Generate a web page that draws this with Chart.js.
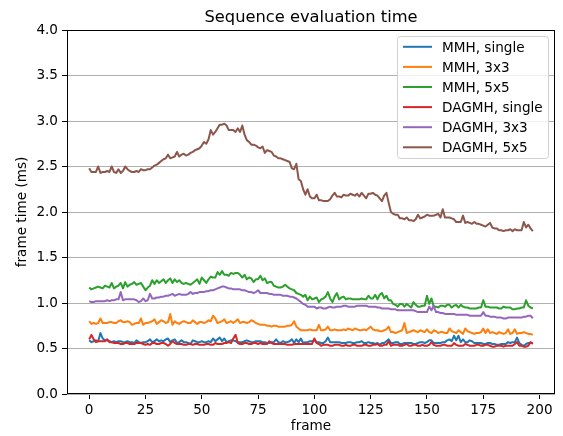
<!DOCTYPE html>
<html><head><meta charset="utf-8">
<script src="https://cdn.jsdelivr.net/npm/chart.js@4.4.1/dist/chart.umd.min.js"></script>
<style>html,body{margin:0;padding:0;background:#fff;}#wrap{width:563px;height:436px;}</style>
</head><body><div id="wrap"><canvas id="c" width="563" height="436"></canvas></div>
<script>
const chartTitle = 'Sequence evaluation time';
const xAxisTitle = 'frame';
const yAxisTitle = 'frame time (ms)';
const seriesNames = ['MMH, single', 'MMH, 3x3', 'MMH, 5x5', 'DAGMH, single', 'DAGMH, 3x3', 'DAGMH, 5x5'];
const seriesColors = ['#1f77b4', '#ff7f0e', '#2ca02c', '#d62728', '#9467bd', '#8c564b'];
const xTickValues = [0, 25, 50, 75, 100, 125, 150, 175, 200];
const yTickValues = [0.0, 0.5, 1.0, 1.5, 2.0, 2.5, 3.0, 3.5, 4.0];

const mmhSingle = [0.59,0.57,0.58,0.59,0.58,0.67,0.61,0.59,0.59,0.58,
0.57,0.58,0.57,0.58,0.58,0.57,0.57,0.58,0.57,0.57,
0.56,0.59,0.57,0.56,0.57,0.57,0.58,0.60,0.57,0.58,
0.60,0.58,0.59,0.58,0.60,0.61,0.57,0.59,0.60,0.56,
0.57,0.59,0.57,0.57,0.56,0.55,0.59,0.58,0.57,0.57,
0.58,0.57,0.57,0.58,0.57,0.61,0.58,0.60,0.62,0.58,
0.61,0.57,0.58,0.59,0.59,0.58,0.57,0.57,0.57,0.58,
0.59,0.58,0.57,0.57,0.58,0.58,0.58,0.57,0.57,0.56,
0.56,0.57,0.57,0.60,0.57,0.56,0.58,0.57,0.57,0.58,
0.60,0.56,0.60,0.57,0.61,0.56,0.57,0.57,0.58,0.58,
0.59,0.57,0.57,0.56,0.56,0.58,0.62,0.57,0.57,0.57,
0.57,0.57,0.56,0.56,0.56,0.57,0.57,0.56,0.56,0.57,
0.57,0.58,0.56,0.56,0.57,0.56,0.56,0.55,0.56,0.54,
0.56,0.56,0.58,0.60,0.56,0.56,0.57,0.57,0.55,0.55,
0.56,0.56,0.56,0.56,0.55,0.55,0.56,0.57,0.57,0.56,
0.57,0.59,0.59,0.56,0.56,0.56,0.56,0.57,0.57,0.59,
0.60,0.58,0.64,0.59,0.64,0.57,0.60,0.57,0.57,0.59,
0.58,0.56,0.56,0.56,0.56,0.55,0.55,0.56,0.56,0.55,
0.55,0.54,0.54,0.55,0.55,0.55,0.57,0.56,0.57,0.57,
0.62,0.56,0.54,0.53,0.55,0.56,0.56,0.56];

const mmh3x3 = [0.80,0.77,0.78,0.77,0.78,0.83,0.78,0.78,0.78,0.79,
0.79,0.78,0.78,0.80,0.81,0.79,0.79,0.80,0.79,0.76,
0.77,0.78,0.78,0.83,0.76,0.78,0.78,0.79,0.80,0.82,
0.77,0.79,0.81,0.80,0.78,0.79,0.88,0.76,0.80,0.78,
0.77,0.79,0.80,0.79,0.78,0.78,0.81,0.79,0.77,0.79,
0.79,0.78,0.79,0.81,0.80,0.86,0.83,0.78,0.79,0.80,
0.82,0.78,0.79,0.80,0.78,0.80,0.82,0.78,0.79,0.79,
0.78,0.79,0.81,0.80,0.78,0.77,0.76,0.76,0.76,0.75,
0.75,0.74,0.75,0.75,0.74,0.74,0.74,0.74,0.75,0.75,
0.76,0.80,0.74,0.72,0.70,0.70,0.70,0.70,0.71,0.70,
0.70,0.70,0.76,0.70,0.70,0.71,0.74,0.70,0.70,0.71,
0.70,0.70,0.70,0.71,0.70,0.72,0.71,0.70,0.72,0.71,
0.70,0.70,0.71,0.70,0.72,0.74,0.71,0.70,0.70,0.69,
0.69,0.70,0.71,0.74,0.68,0.68,0.67,0.68,0.69,0.70,
0.78,0.67,0.68,0.69,0.70,0.69,0.68,0.70,0.69,0.68,
0.71,0.68,0.67,0.70,0.69,0.67,0.68,0.68,0.67,0.67,
0.72,0.69,0.68,0.67,0.70,0.68,0.66,0.72,0.69,0.68,
0.67,0.66,0.67,0.67,0.68,0.72,0.67,0.71,0.67,0.68,
0.67,0.66,0.68,0.67,0.66,0.67,0.71,0.66,0.67,0.71,
0.66,0.67,0.67,0.68,0.67,0.66,0.66,0.65];

const mmh5x5 = [1.17,1.15,1.16,1.17,1.18,1.17,1.16,1.19,1.18,1.17,
1.22,1.16,1.18,1.19,1.22,1.16,1.23,1.18,1.20,1.21,
1.23,1.20,1.21,1.22,1.18,1.14,1.17,1.19,1.25,1.21,
1.25,1.22,1.24,1.26,1.22,1.25,1.27,1.22,1.26,1.23,
1.25,1.22,1.21,1.22,1.21,1.20,1.22,1.24,1.26,1.21,
1.28,1.25,1.22,1.26,1.29,1.28,1.28,1.34,1.31,1.35,
1.31,1.31,1.30,1.33,1.32,1.33,1.33,1.31,1.28,1.31,
1.26,1.28,1.27,1.23,1.26,1.26,1.30,1.25,1.27,1.22,
1.23,1.23,1.19,1.18,1.17,1.17,1.18,1.20,1.18,1.16,
1.15,1.14,1.11,1.10,1.09,1.07,1.09,1.03,1.07,1.04,
1.05,1.06,1.01,1.04,1.05,1.07,1.12,1.05,1.01,1.07,
1.11,1.04,1.06,1.07,1.04,1.05,1.05,1.04,1.04,1.04,
1.04,1.05,1.04,1.04,1.08,1.05,1.05,1.09,1.04,1.09,
1.11,1.05,1.08,1.03,1.03,0.99,0.98,0.96,0.99,0.99,
0.96,0.99,0.97,0.95,1.01,0.98,0.96,0.96,0.97,0.97,
1.08,0.99,1.05,0.96,0.96,0.95,0.97,0.97,0.96,0.98,
0.98,0.95,0.97,0.98,0.95,0.98,0.96,0.95,0.95,0.94,
0.94,0.94,0.94,0.95,0.95,1.03,0.96,0.96,0.95,0.95,
0.95,0.95,0.94,0.94,0.96,0.95,0.95,0.95,0.93,0.93,
0.94,0.94,0.95,0.95,1.03,0.97,0.95,0.94];

const dagmhSingle = [0.60,0.65,0.60,0.57,0.58,0.58,0.58,0.58,0.60,0.57,
0.57,0.56,0.56,0.56,0.55,0.55,0.56,0.56,0.55,0.55,
0.55,0.56,0.56,0.56,0.55,0.54,0.55,0.54,0.56,0.56,
0.55,0.55,0.56,0.56,0.55,0.53,0.55,0.58,0.56,0.55,
0.55,0.55,0.54,0.54,0.55,0.55,0.54,0.55,0.55,0.54,
0.54,0.54,0.55,0.55,0.54,0.54,0.56,0.55,0.55,0.55,
0.56,0.56,0.57,0.56,0.61,0.65,0.56,0.55,0.55,0.56,
0.56,0.55,0.55,0.56,0.56,0.55,0.56,0.55,0.55,0.55,
0.58,0.56,0.55,0.55,0.55,0.55,0.55,0.55,0.54,0.54,
0.54,0.55,0.55,0.55,0.55,0.55,0.55,0.55,0.55,0.55,
0.61,0.56,0.55,0.53,0.54,0.54,0.54,0.53,0.53,0.54,
0.54,0.54,0.53,0.53,0.54,0.53,0.53,0.54,0.54,0.53,
0.53,0.53,0.54,0.54,0.53,0.53,0.54,0.54,0.55,0.53,
0.53,0.54,0.54,0.58,0.53,0.54,0.54,0.54,0.53,0.53,
0.54,0.55,0.53,0.53,0.54,0.54,0.53,0.53,0.54,0.53,
0.53,0.54,0.57,0.54,0.53,0.53,0.53,0.54,0.54,0.53,
0.53,0.53,0.56,0.54,0.53,0.53,0.53,0.55,0.54,0.53,
0.53,0.53,0.54,0.54,0.53,0.53,0.54,0.54,0.53,0.52,
0.52,0.53,0.53,0.53,0.52,0.53,0.53,0.53,0.53,0.55,
0.57,0.53,0.53,0.52,0.52,0.53,0.57,0.55];

const dagmh3x3 = [1.02,1.01,1.01,1.02,1.02,1.02,1.02,1.02,1.03,1.02,
1.03,1.03,1.04,1.04,1.12,1.03,1.04,1.04,1.04,1.04,
1.04,1.03,1.01,1.02,1.05,1.02,1.03,1.10,1.05,1.05,
1.06,1.06,1.07,1.07,1.08,1.08,1.09,1.10,1.08,1.09,
1.10,1.09,1.09,1.09,1.10,1.12,1.10,1.11,1.11,1.12,
1.12,1.12,1.13,1.13,1.14,1.14,1.15,1.16,1.17,1.18,
1.18,1.17,1.16,1.16,1.15,1.15,1.15,1.15,1.14,1.14,
1.13,1.12,1.12,1.11,1.12,1.14,1.11,1.11,1.11,1.11,
1.10,1.10,1.09,1.09,1.09,1.09,1.08,1.08,1.08,1.07,
1.07,1.06,1.05,1.03,1.01,0.99,0.98,0.96,0.96,0.96,
0.96,0.94,0.95,0.95,0.94,0.94,0.95,0.96,0.95,0.95,
0.96,0.96,0.96,0.97,0.97,0.96,0.96,0.96,0.96,0.97,
0.97,0.97,0.97,0.97,0.96,0.96,0.96,0.96,0.95,0.95,
0.94,0.94,0.94,0.94,0.93,0.93,0.93,0.92,0.92,0.92,
0.92,0.92,0.92,0.92,0.92,0.91,0.90,0.90,0.90,0.90,
0.90,0.96,0.92,0.97,0.90,0.90,0.89,0.89,0.88,0.88,
0.88,0.88,0.88,0.87,0.87,0.87,0.87,0.87,0.87,0.86,
0.86,0.86,0.86,0.86,0.86,0.90,0.86,0.86,0.85,0.85,
0.85,0.84,0.84,0.84,0.83,0.83,0.84,0.84,0.84,0.84,
0.84,0.84,0.84,0.85,0.85,0.86,0.86,0.83];

const dagmh5x5 = [2.48,2.44,2.44,2.44,2.50,2.43,2.44,2.44,2.45,2.44,
2.50,2.44,2.43,2.47,2.43,2.45,2.50,2.47,2.45,2.44,
2.44,2.45,2.44,2.47,2.46,2.46,2.47,2.47,2.49,2.51,
2.52,2.54,2.56,2.58,2.59,2.63,2.59,2.60,2.61,2.66,
2.61,2.63,2.64,2.62,2.63,2.65,2.66,2.68,2.69,2.70,
2.73,2.77,2.75,2.80,2.90,2.85,2.88,2.92,2.96,2.96,
2.97,2.95,2.90,2.90,2.90,2.88,2.92,2.88,2.95,2.85,
2.79,2.77,2.74,2.74,2.73,2.71,2.70,2.72,2.65,2.68,
2.67,2.66,2.62,2.61,2.59,2.59,2.58,2.57,2.56,2.55,
2.48,2.47,2.53,2.36,2.34,2.25,2.19,2.25,2.17,2.15,
2.15,2.19,2.13,2.13,2.12,2.12,2.12,2.14,2.18,2.21,
2.17,2.17,2.16,2.19,2.18,2.18,2.20,2.19,2.18,2.20,
2.17,2.21,2.18,2.15,2.20,2.20,2.21,2.19,2.18,2.15,
2.12,2.18,2.21,2.10,2.00,1.98,1.97,1.97,1.93,1.93,
1.92,1.94,1.91,1.91,1.90,1.92,1.97,1.93,1.94,1.95,
1.97,1.96,1.96,1.96,1.97,1.98,1.94,2.03,1.94,1.94,
1.94,1.93,1.92,1.89,1.89,1.89,1.96,1.88,1.89,1.88,
1.87,1.89,1.87,1.87,1.86,1.85,1.84,1.86,1.88,1.83,
1.82,1.82,1.80,1.80,1.79,1.80,1.80,1.81,1.79,1.81,
1.80,1.80,1.80,1.89,1.83,1.86,1.82,1.79];

const seriesValues = [mmhSingle, mmh3x3, mmh5x5, dagmhSingle, dagmh3x3, dagmh5x5];
const frames = mmhSingle.map((_, i) => i);

const FONT = 'DejaVu Sans';
const FS = 13.6;

const decorPlugin = {
  id: 'decor',
  afterDatasetsDraw(chart) {
    const ctx = chart.ctx;
    const a = chart.chartArea;
    ctx.save();
    // spines (all four sides)
    ctx.strokeStyle = '#000';
    ctx.lineWidth = 1;
    const L = Math.round(a.left) + 0.5, R = Math.round(a.right) - 0.5;
    const T = Math.round(a.top) + 0.5, B = Math.round(a.bottom) - 0.5;
    ctx.strokeRect(L, T, R - L, B - T);
    // legend
    const x0 = 397.5, y0 = 36.5, w = 151, h = 122, r = 3;
    ctx.beginPath();
    ctx.moveTo(x0 + r, y0);
    ctx.lineTo(x0 + w - r, y0);
    ctx.quadraticCurveTo(x0 + w, y0, x0 + w, y0 + r);
    ctx.lineTo(x0 + w, y0 + h - r);
    ctx.quadraticCurveTo(x0 + w, y0 + h, x0 + w - r, y0 + h);
    ctx.lineTo(x0 + r, y0 + h);
    ctx.quadraticCurveTo(x0, y0 + h, x0, y0 + h - r);
    ctx.lineTo(x0, y0 + r);
    ctx.quadraticCurveTo(x0, y0, x0 + r, y0);
    ctx.closePath();
    ctx.fillStyle = 'rgba(255,255,255,0.8)';
    ctx.fill();
    ctx.strokeStyle = '#d0d0d0';
    ctx.stroke();
    ctx.font = FS + 'px "' + FONT + '"';
    ctx.textBaseline = 'alphabetic';
    ctx.textAlign = 'left';
    seriesNames.forEach((name, i) => {
      const yy = 46.8 + i * 20.1;
      ctx.strokeStyle = seriesColors[i];
      ctx.lineWidth = 2;
      ctx.beginPath();
      ctx.moveTo(403, yy);
      ctx.lineTo(432, yy);
      ctx.stroke();
      ctx.fillStyle = '#000';
      ctx.fillText(name, 442, yy + 5);
    });
    ctx.restore();
  },
  afterDraw(chart) {
    const ctx = chart.ctx;
    const a = chart.chartArea;
    ctx.save();
    ctx.font = '16.3px "' + FONT + '"';
    ctx.fillStyle = '#000';
    ctx.textAlign = 'center';
    ctx.textBaseline = 'alphabetic';
    ctx.fillText(chartTitle, (a.left + a.right) / 2, 22);
    ctx.restore();
  }
};

new Chart(document.getElementById('c'), {
  type: 'line',
  data: {
    datasets: seriesValues.map((vals, i) => ({
      label: seriesNames[i],
      data: vals.map((v, j) => ({ x: frames[j], y: v })),
      borderColor: seriesColors[i],
      backgroundColor: seriesColors[i],
      borderWidth: 2,
      pointRadius: 0,
      tension: 0,
      fill: false,
      borderJoinStyle: 'round',
      order: seriesValues.length - i
    }))
  },
  options: {
    responsive: false,
    animation: false,
    devicePixelRatio: 1,
    layout: { padding: { top: 30, right: 8, left: 0, bottom: 0 } },
    plugins: {
      legend: { display: false },
      title: { display: false },
      tooltip: { enabled: false }
    },
    scales: {
      x: {
        type: 'linear',
        min: -9.85,
        max: 206.85,
        afterBuildTicks: (s) => { s.ticks = xTickValues.map(v => ({ value: v })); },
        afterFit: (s) => { s.height = 42; },
        ticks: { color: '#000', font: { family: FONT, size: FS }, padding: 3, maxRotation: 0, autoSkip: false, callback: (v) => String(v) },
        grid: { drawOnChartArea: false, drawTicks: true, tickLength: 5, tickColor: '#000', tickWidth: 1 },
        border: { display: false },
        title: { display: true, text: xAxisTitle, color: '#000', font: { family: FONT, size: FS }, padding: { top: 0, bottom: 1 } }
      },
      y: {
        type: 'linear',
        min: 0,
        max: 4,
        afterBuildTicks: (s) => { s.ticks = yTickValues.map(v => ({ value: v })); },
        afterFit: (s) => { s.width = 67; },
        ticks: { color: '#000', font: { family: FONT, size: FS }, padding: 4, autoSkip: false, callback: (v) => Number(v).toFixed(1) },
        grid: { color: '#b0b0b0', lineWidth: 1, drawTicks: true, tickLength: 5, tickColor: '#000', tickWidth: 1 },
        border: { display: false },
        title: { display: true, text: yAxisTitle, color: '#000', font: { family: FONT, size: FS }, padding: { top: 14, bottom: 0 } }
      }
    }
  },
  plugins: [decorPlugin]
});
</script>
</body></html>
